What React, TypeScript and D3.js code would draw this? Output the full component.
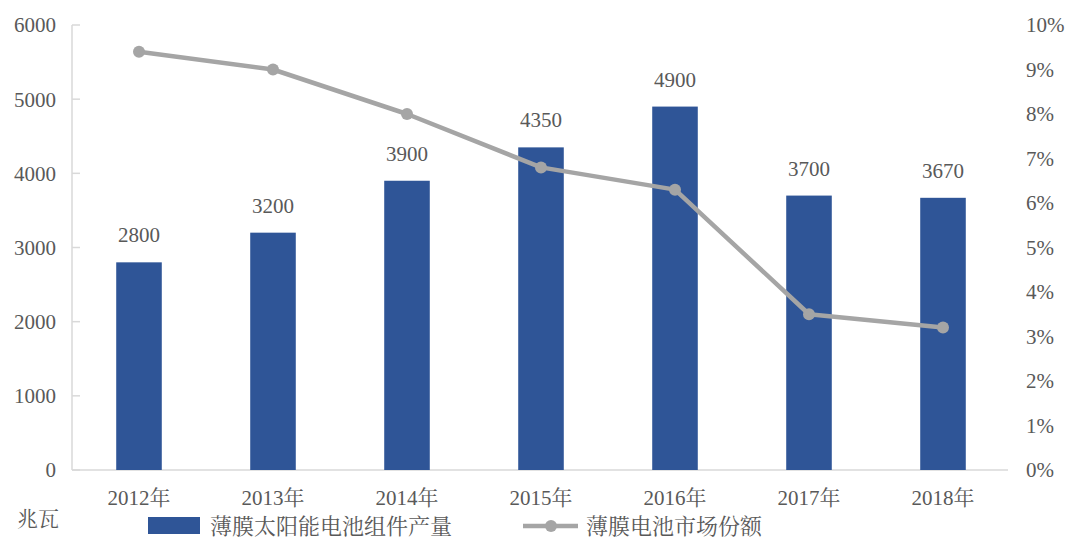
import React from "react";
import * as d3 from "d3";

const years = ["2012年", "2013年", "2014年", "2015年", "2016年", "2017年", "2018年"];
const output = [2800, 3200, 3900, 4350, 4900, 3700, 3670];
const share = [0.094, 0.09, 0.08, 0.068, 0.063, 0.035, 0.032];
const leftTicks = [0, 1000, 2000, 3000, 4000, 5000, 6000];
const rightTicks = [0, 0.01, 0.02, 0.03, 0.04, 0.05, 0.06, 0.07, 0.08, 0.09, 0.1];

const W = 1080;
const H = 553;
const margin = { left: 72, right: 70, top: 25, bottom: 83 };

const BAR = "#2F5597";
const LINE = "#A5A5A5";
const TEXT = "#595959";
const serif = "'Liberation Serif', 'Noto Serif CJK SC', 'Noto Sans CJK SC', serif";

export default function App() {
    const x = d3.scaleBand<string>()
        .domain(years)
        .range([margin.left, W - margin.right])
        .paddingInner(0.66)
        .paddingOuter(0.33);
    const yL = d3.scaleLinear().domain([0, 6000]).range([H - margin.bottom, margin.top]);
    const yR = d3.scaleLinear().domain([0, 0.1]).range([H - margin.bottom, margin.top]);

    const cx = (d: string) => (x(d) ?? 0) + x.bandwidth() / 2;
    const line = d3.line<number>()
        .x((_, i) => cx(years[i]))
        .y((d) => yR(d));

    const baseY = yL(0);

    return (
        <svg width={W} height={H} style={{ position: "absolute", left: 0, top: 0, background: "#fff" }}>
            {/* left axis */}
            <line x1={margin.left} x2={margin.left} y1={yL(6000)} y2={baseY} stroke="#D9D9D9" strokeWidth={1.5} />
            {leftTicks.map((t) => (
                <g key={t}>
                    <line x1={margin.left} x2={margin.left + 8} y1={yL(t)} y2={yL(t)} stroke="#D9D9D9" strokeWidth={1.5} />
                    <text x={56} y={yL(t)} dy="0.35em" textAnchor="end" fontFamily={serif} fontSize={21} fill={TEXT}>
                        {t}
                    </text>
                </g>
            ))}
            {/* bottom axis */}
            <line x1={margin.left} x2={W - margin.right - 2} y1={baseY} y2={baseY} stroke="#D9D9D9" strokeWidth={1.5} />
            {/* right axis labels */}
            {rightTicks.map((t) => (
                <text key={t} x={1026} y={yR(t)} dy="0.35em" textAnchor="start" fontFamily={serif} fontSize={21} fill={TEXT}>
                    {d3.format(".0%")(t)}
                </text>
            ))}
            {/* bars */}
            {output.map((v, i) => (
                <g key={years[i]}>
                    <rect x={x(years[i])} y={yL(v)} width={x.bandwidth()} height={baseY - yL(v)} fill={BAR} />
                    <text x={cx(years[i])} y={yL(v) - 20} textAnchor="middle" fontFamily={serif} fontSize={21} fill={TEXT}>
                        {v}
                    </text>
                </g>
            ))}
            {/* line */}
            <path d={line(share) ?? ""} fill="none" stroke={LINE} strokeWidth={4.5} strokeLinejoin="round" />
            {share.map((v, i) => (
                <circle key={i} cx={cx(years[i])} cy={yR(v)} r={6} fill={LINE} />
            ))}
            {/* category labels */}
            {years.map((y) => (
                <text key={y} x={cx(y)} y={baseY + 35} textAnchor="middle" fontFamily={serif} fontSize={21} fill={TEXT}>
                    {y}
                </text>
            ))}
            <text x={17} y={526} fontFamily={serif} fontSize={21} fill={TEXT}>兆瓦</text>
            {/* legend */}
            <rect x={148} y={517} width={52} height={17} fill={BAR} />
            <text x={210} y={534} fontFamily={serif} fontSize={22} fill={TEXT}>薄膜太阳能电池组件产量</text>
            <line x1={523} x2={578} y1={526} y2={526} stroke={LINE} strokeWidth={4.5} />
            <circle cx={551} cy={526} r={6} fill={LINE} />
            <text x={586} y={534} fontFamily={serif} fontSize={22} fill={TEXT}>薄膜电池市场份额</text>
        </svg>
    );
}
